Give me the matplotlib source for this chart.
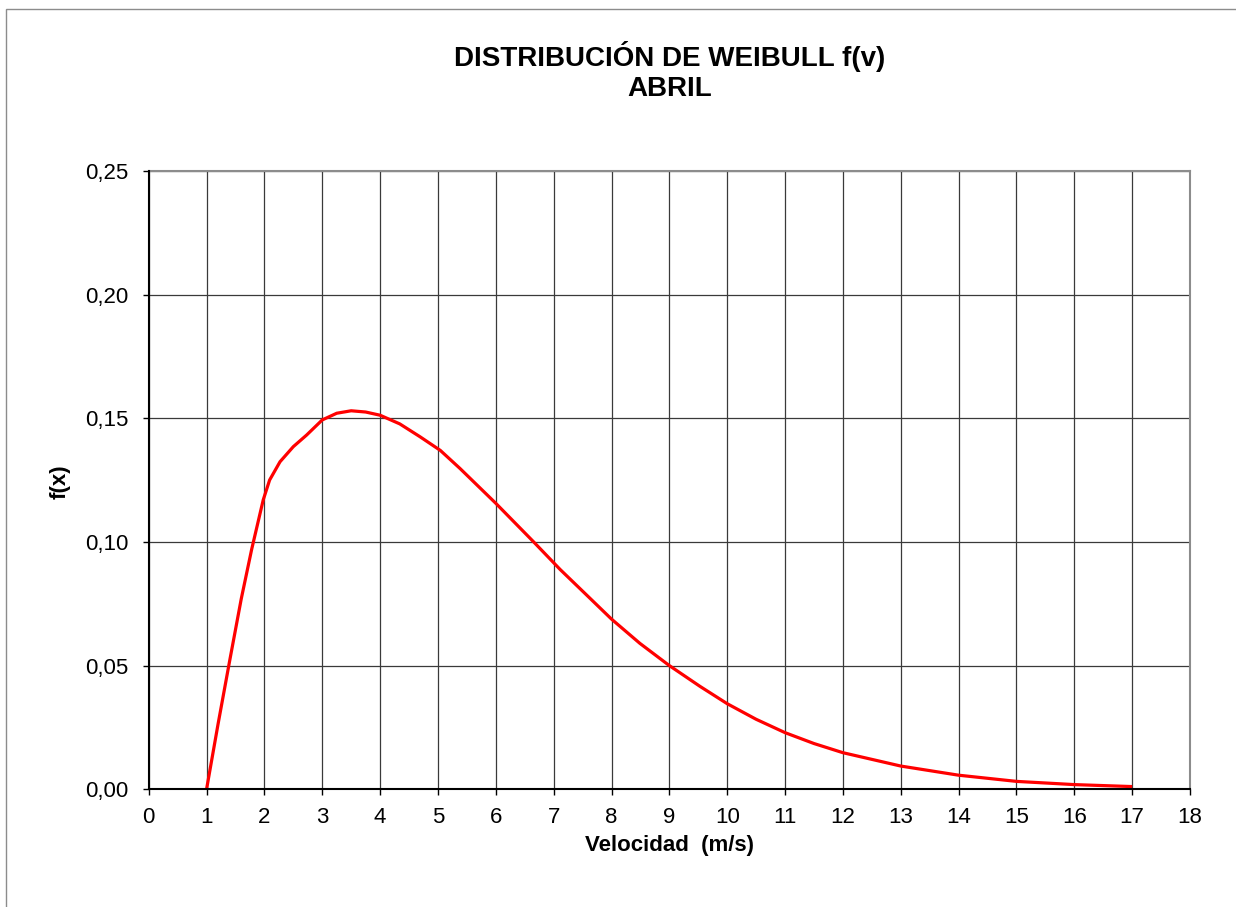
import matplotlib
matplotlib.use("Agg")
import matplotlib.pyplot as plt
from matplotlib.patches import Rectangle
from matplotlib.ticker import FuncFormatter, MultipleLocator

# Data
velocidad = [1.0, 1.2, 1.4, 1.6, 1.78, 1.98, 2.09, 2.27, 2.5, 2.73, 3.0, 3.25,
             3.5, 3.75, 4.0, 4.34, 4.69, 5.04, 5.38, 6.0, 6.65, 7.11, 7.54,
             8.0, 8.49, 9.0, 9.53, 10.0, 10.5, 11.0, 11.5, 12.0, 13.0, 14.0,
             15.0, 16.0, 17.0]
fx = [0.0, 0.0265, 0.052, 0.077, 0.097, 0.117, 0.125, 0.1324, 0.1385, 0.1432,
      0.1493, 0.152, 0.153, 0.1525, 0.1512, 0.1477, 0.1425, 0.137, 0.1297,
      0.1156, 0.1001, 0.0889, 0.0792, 0.0688, 0.059, 0.050, 0.0416, 0.0346,
      0.0283, 0.0229, 0.0185, 0.0148, 0.0094, 0.0057, 0.0032, 0.0019, 0.0011]

title_text = "DISTRIBUCIÓN DE WEIBULL f(v)\nABRIL"
xlabel_text = "Velocidad  (m/s)"
ylabel_text = "f(x)"

plt.rcParams['font.family'] = ['Liberation Sans', 'DejaVu Sans']

W, H = 1236, 907
fig = plt.figure(figsize=(W / 100, H / 100), dpi=100)

# outer chart border
fig.patches.append(Rectangle((6 / W, -0.05), 1.1, 1 - 8.5 / H + 0.05,
                             transform=fig.transFigure, fill=False,
                             edgecolor='#8c8c8c', linewidth=1.0))

left, right = 148.7 / W, 1190 / W
bottom, top = 1 - 789.3 / H, 1 - 170.8 / H
ax = fig.add_axes([left, bottom, right - left, top - bottom])

ax.plot(velocidad, fx, color='#ff0000', linewidth=2.3, zorder=3,
        solid_joinstyle='round', solid_capstyle='butt')

ax.set_xlim(0, 18)
ax.set_ylim(0, 0.25)
ax.xaxis.set_major_locator(MultipleLocator(1))
ax.yaxis.set_major_locator(MultipleLocator(0.05))
ax.yaxis.set_major_formatter(FuncFormatter(lambda v, p: f"{v:.2f}".replace('.', ',')))

ax.grid(True, color='#3a3a3a', linewidth=0.9, zorder=1)
ax.set_axisbelow(True)

for s in ['top', 'right']:
    ax.spines[s].set_color('#8c8c8c')
    ax.spines[s].set_linewidth(1.5)
for s in ['left', 'bottom']:
    ax.spines[s].set_color('black')
    ax.spines[s].set_linewidth(1.5)
    ax.spines[s].set_zorder(4)

ax.tick_params(axis='both', direction='out', length=4.5, width=1, color='black',
               labelsize=16)
ax.tick_params(axis='x', pad=8)
ax.tick_params(axis='y', pad=10)

fig.text((left + right) / 2, 1 - 72 / H, title_text, ha='center', va='center',
         fontsize=20, fontweight='bold', linespacing=1.2)
fig.text((left + right) / 2, 1 - 845 / H, xlabel_text, ha='center', va='center',
         fontsize=16, fontweight='bold')
fig.text(60 / W, 1 - 482 / H, ylabel_text, ha='center', va='center',
         rotation=90, fontsize=16, fontweight='bold')

fig.savefig("out.png", dpi=100, facecolor='white')
